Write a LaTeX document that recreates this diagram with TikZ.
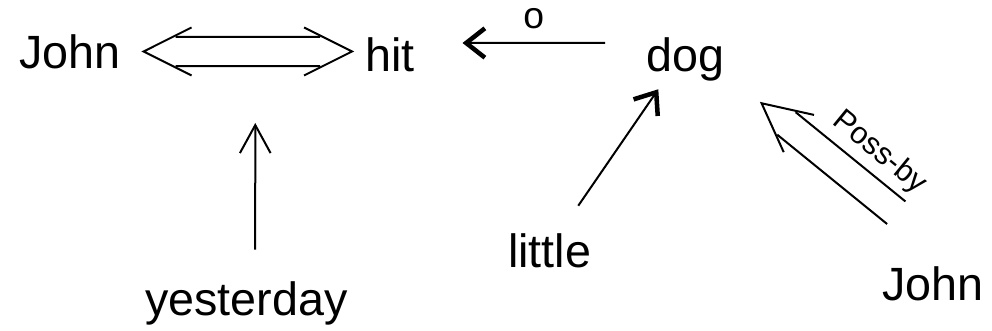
\documentclass[tikz,border=0pt]{standalone}
\usepackage{fontspec}
\setmainfont{Liberation Sans}
\usetikzlibrary{arrows.meta,calc}
\tikzset{
    % Define style for words
    ord/.style={
           inner sep=0pt,
           anchor=base west,
           text height=25.5pt,
           text depth=7.5pt,
           font=\fontsize{35}{42}\selectfont},
    % Define style for labels on links
    lbl/.style={
           inner sep=0pt,
           font=\fontsize{23}{27}\selectfont},
    % Define arrow styles
    pil/.style={
           line width=1.5pt},
    tynd/.style={
           pil,
           -{Straight Barb[length=21pt,width=23pt]}},
    tyk/.style={
           pil,
           -{Straight Barb[length=14pt,width=22pt,line width=3.4pt]}}
}
\newcommand*{\wnode}[3]{\node[ord] (#1) at (#2) {#3};}
% open head of a double link, pointing to #2
\newcommand*{\twinhead}[2]{\draw[pil] ($(#2)!40.25pt!26.57:(#1)$) -- (#2) -- ($(#2)!40.25pt!-26.57:(#1)$);}
% the two lines of a double link
\newcommand*{\twinline}[4]{%
  \draw[pil] ($(#1)!#3!(#2)!10.9pt!90:(#2)$) -- ($(#2)!#4!(#1)!10.9pt!-90:(#1)$);
  \draw[pil] ($(#1)!#3!(#2)!10.9pt!-90:(#2)$) -- ($(#2)!#4!(#1)!10.9pt!90:(#1)$);}

\begin{document}
\begin{tikzpicture}[x=0.75pt,y=0.75pt]
\useasboundingbox (0,0) rectangle (992,331);
% First place the words
\wnode{johnA}{19,262.5}{John}
\wnode{hit}{365,259.3}{hit}
\wnode{dog}{646,259}{dog}
\wnode{little}{508,63}{little}
\wnode{yesterday}{145,15}{yesterday}
\wnode{johnB}{882,30}{John}

% Points where the double links end
\coordinate (jh1) at ([shift={(22.8,5)}]johnA.east);
\coordinate (jh2) at ([shift={(-13,8.2)}]hit.west);
\coordinate (jhM) at ($(jh1)!0.5!(jh2)$);
\coordinate (pbT) at ([shift={(37.2,-21)}]dog.south east);
\coordinate (pbS) at ([shift={(-36.6,54)}]johnB.north);

% Now draw the double links
\twinline{jh1}{jh2}{24pt}{24pt}
\twinhead{jh2}{jh1}
\twinhead{jh1}{jh2}
\twinline{pbT}{pbS}{24pt}{0pt}
\twinhead{pbS}{pbT}
\node[lbl, rotate=-39.3] (poss) at ($(pbT)!92pt!(pbS)!27pt!90:(pbS)$) {Poss-by};

% Finally the single arrows
\draw[tyk] ([shift={(-41,17)}]dog.west) -- node[midway, above=10pt, inner sep=0pt, font=\fontsize{28}{32}\selectfont] (obj) {o} ([shift={(47.7,16.7)}]hit.east);
\draw[tyk] ([shift={(28.5,28)}]little.north) -- ([shift={(-26.9,-7)}]dog.south);
\draw[tynd] ([shift={(8.8,32)}]yesterday.north) -- ([shift={(7.5,-71.5)}]jhM);
\end{tikzpicture}
\end{document}
